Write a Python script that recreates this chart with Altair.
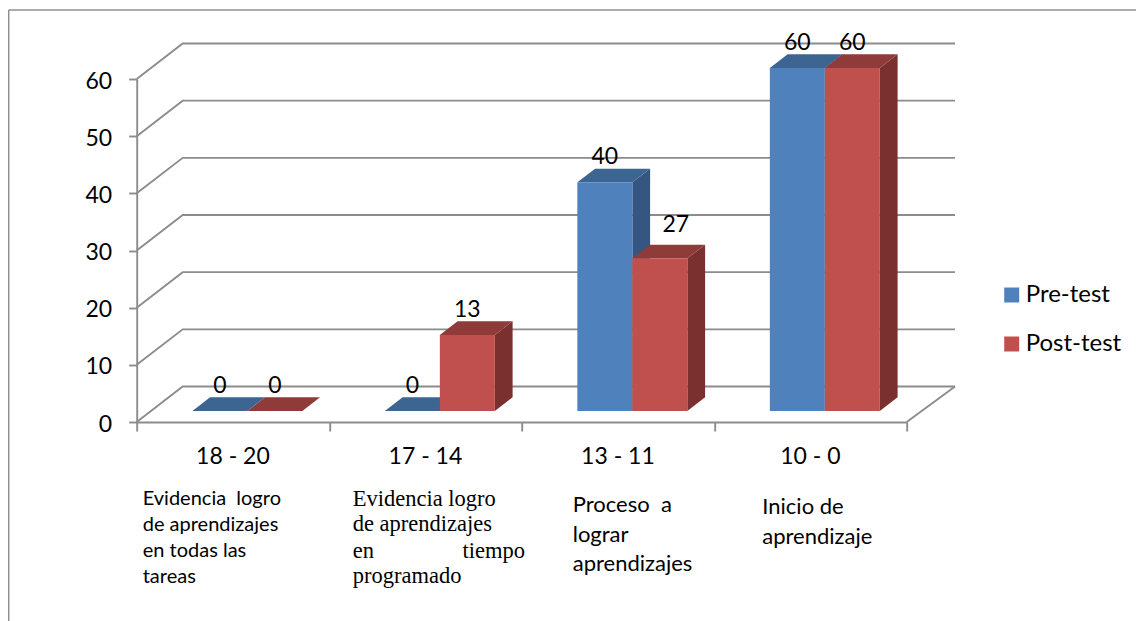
import altair as alt
import pandas as pd

# ---- values ----
ranges = ["18 - 20", "17 - 14", "13 - 11", "10 - 0"]
pre_test = [0, 0, 40, 60]
post_test = [0, 13.3, 26.7, 60]
series_names = ["Pre-test", "Post-test"]
ticks = [0, 10, 20, 30, 40, 50, 60]

notes_sans = [
    ("Evidencia\u00a0 logro", 142.7, 499, 20), ("de aprendizajes", 142.7, 525, 20),
    ("en todas las", 142.7, 551, 20), ("tareas", 142.7, 577, 20),
    ("Proceso\u00a0 a", 572.7, 505, 22), ("lograr", 572.7, 535, 22), ("aprendizajes", 572.7, 564, 22),
    ("Inicio de", 762.3, 507, 22), ("aprendizaje", 762.3, 537, 22),
]
notes_serif = [
    ("Evidencia logro", 352.7, 499, "left"), ("de aprendizajes", 352.7, 524, "left"),
    ("en", 352.7, 551, "left"), ("tiempo", 525, 551, "right"), ("programado", 352.7, 576, "left"),
]

# ---- layout ----
PX_X, PX_Y = 192.5, 343 / 60          # pixels per category / per value unit
LEFT, ZERO = 136.7, 422.0             # page position of the plot's origin
BACK_X, BACK_Y = 46 / PX_X, 35.5 / PX_Y   # shift of the back wall
BAR_D0, BAR_D1 = 0.31, 0.696          # bar depth, as a share of the floor depth
BAR_START, BAR_W = 0.215, 0.2857
WALL_END = 4.012
SANS, SERIF = "Lato", "Liberation Serif"
GRID = "#8c8c8c"
LINE_W = 1.9
FRONT = {"Pre-test": "#4F81BD", "Post-test": "#C0504D"}
TOP = {"Pre-test": "#3C6591", "Post-test": "#8E3B39"}
SIDE = {"Pre-test": "#345680", "Post-test": "#7A302E"}
LABEL_NUDGE = {("13 - 11", "Post-test"): (16, -8)}   # pixels


def page_x(p):
    return (p - LEFT) / PX_X


def page_y(p):
    return (ZERO - p) / PX_Y


xs = alt.Scale(domain=[0, 4], nice=False, zero=False)
ys = alt.Scale(domain=[0, 60], nice=False, zero=False)

x_axis = alt.Axis(values=[0, 1, 2, 3, 4], labels=False, tickSize=9, tickWidth=LINE_W,
                  tickColor=GRID, domainColor=GRID, domainWidth=LINE_W, grid=False)
y_axis = alt.Axis(values=ticks, tickSize=8, tickWidth=LINE_W, tickColor=GRID, domainColor=GRID,
                  domainWidth=LINE_W, grid=False, labelFont=SANS, labelFontSize=23,
                  labelColor="#000000", labelPadding=17, labelOffset=2)


def X(f="x"):
    return alt.X(f"{f}:Q", scale=xs, title=None, axis=x_axis)


def Y(f="y"):
    return alt.Y(f"{f}:Q", scale=ys, title=None, axis=y_axis)


# walls
grid_rows = []
for t in ticks:
    grid_rows += [
        {"g": t, "x": 0, "y": t},
        {"g": t, "x": BACK_X, "y": t + BACK_Y},
        {"g": t, "x": WALL_END + BACK_X, "y": t + BACK_Y},
    ]
grid_rows += [{"g": -1, "x": 4, "y": 0}, {"g": -1, "x": WALL_END + BACK_X, "y": BACK_Y}]
grid = alt.Chart(pd.DataFrame(grid_rows)).mark_line(color=GRID, strokeWidth=LINE_W).encode(
    x=X(), y=Y(), detail="g:N"
)

# outer frame
frame_top = alt.Chart(pd.DataFrame({"a": [0]})).mark_rule(color="#8f8f8f", strokeWidth=1.5).encode(
    x=alt.value(8.7 - LEFT), x2=alt.value(1144 - LEFT), y=alt.value(10 - (ZERO - 343))
)
frame_left = alt.Chart(pd.DataFrame({"a": [0]})).mark_rule(color="#8f8f8f", strokeWidth=1.5).encode(
    x=alt.value(8.7 - LEFT), y=alt.value(10 - (ZERO - 343)), y2=alt.value(621 - (ZERO - 343))
)

# bars
dx0, dy0 = BAR_D0 * BACK_X, BAR_D0 * BACK_Y
dx1, dy1 = BAR_D1 * BACK_X, BAR_D1 * BACK_Y
ddx, ddy = dx1 - dx0, dy1 - dy0


def series_layers(k, name, values):
    front, tops, sides = [], [], []
    for i, v in enumerate(values):
        xl = i + BAR_START + k * BAR_W + dx0
        xr = xl + BAR_W
        y0, y1 = dy0, v + dy0
        front.append({"series": name, "x": xl, "x2": xr, "y": y0, "y2": y1})
        tops += [
            {"b": i, "y": y1, "x": xl, "x2": xr},
            {"b": i, "y": y1 + ddy, "x": xl + ddx, "x2": xr + ddx},
        ]
        if v > 0:
            sides += [
                {"b": i, "x": xr, "y": y0, "y2": y1},
                {"b": i, "x": xr + ddx, "y": y0 + ddy, "y2": y1 + ddy},
            ]
    out = []
    if sides:
        out.append(alt.Chart(pd.DataFrame(sides)).mark_area(color=SIDE[name]).encode(
            x=X(), y=Y(), y2="y2:Q", detail="b:N"))
    out.append(alt.Chart(pd.DataFrame(tops)).mark_area(color=TOP[name], orient="horizontal").encode(
        y=Y(), x=X(), x2="x2:Q", detail="b:N"))
    out.append(alt.Chart(pd.DataFrame(front)).mark_bar().encode(
        x=X(), x2="x2:Q", y=Y(), y2="y2:Q",
        color=alt.Color("series:N",
                        scale=alt.Scale(domain=series_names, range=[FRONT[n] for n in series_names]),
                        legend=alt.Legend(title=None, orient="none", legendX=863, legendY=204,
                                          symbolType="square", symbolSize=225, symbolStrokeWidth=0,
                                          labelFont=SANS, labelFontSize=24, labelColor="#000000",
                                          labelOffset=2, rowPadding=25)),
    ))
    return out


# value labels
label_rows = []
for k, (name, values) in enumerate(zip(series_names, [pre_test, post_test])):
    for i, v in enumerate(values):
        nx, ny = LABEL_NUDGE.get((ranges[i], name), (0, 0))
        label_rows.append({
            "x": i + BAR_START + (k + 0.5) * BAR_W + dx0 + nx / PX_X,
            "y": v + dy0 + (25 - ny) / PX_Y,
            "t": f"{v:.0f}",
        })
value_labels = alt.Chart(pd.DataFrame(label_rows)).mark_text(
    font=SANS, fontSize=23, color="#000000", baseline="middle", align="center"
).encode(x=X(), y=Y(), text="t:N")

range_labels = alt.Chart(pd.DataFrame({
    "x": [i + 0.5 for i in range(len(ranges))], "y": [page_y(456.7)] * len(ranges), "t": ranges,
})).mark_text(font=SANS, fontSize=23, color="#000000", baseline="middle", align="center").encode(
    x=X(), y=Y(), text="t:N"
)

note_layers = []
for size in sorted({n[3] for n in notes_sans}):
    rows = [{"x": page_x(n[1]), "y": page_y(n[2]), "t": n[0]} for n in notes_sans if n[3] == size]
    note_layers.append(alt.Chart(pd.DataFrame(rows)).mark_text(
        font=SANS, fontSize=size, color="#000000", baseline="middle", align="left"
    ).encode(x=X(), y=Y(), text="t:N"))
for al in ["left", "right"]:
    rows = [{"x": page_x(n[1]), "y": page_y(n[2]), "t": n[0]} for n in notes_serif if n[3] == al]
    note_layers.append(alt.Chart(pd.DataFrame(rows)).mark_text(
        font=SERIF, fontSize=22.5, color="#000000", baseline="middle", align=al
    ).encode(x=X(), y=Y(), text="t:N"))

layers = [frame_top, frame_left, grid, value_labels]
layers += series_layers(0, "Pre-test", pre_test)
layers += series_layers(1, "Post-test", post_test)
layers += [range_labels] + note_layers

chart = alt.layer(*layers).properties(
    width=770, height=343,
    autosize=alt.AutoSizeParams(type="none"),
    padding={"left": LEFT - 8, "top": ZERO - 343 - 8, "right": 1128 - (LEFT - 8) - 770,
             "bottom": 613 - (ZERO - 343 - 8) - 343},
    background="#ffffff",
).configure_view(stroke=None)

chart.save("out.html", embed_options={"renderer": "svg", "actions": False})
